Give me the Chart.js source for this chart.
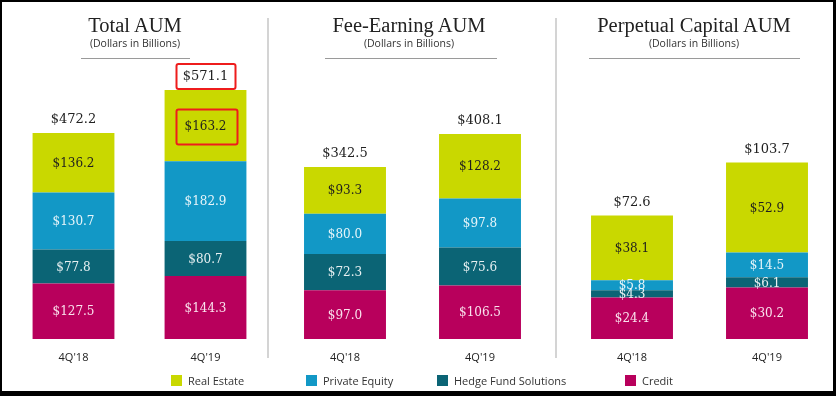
<!DOCTYPE html>
<html><head><meta charset="utf-8">
<script src="https://cdn.jsdelivr.net/npm/chart.js@4/dist/chart.umd.min.js"></script>
<style>
html,body{margin:0;padding:0;background:#fff;}
#wrap{position:relative;width:836px;height:396px;overflow:hidden;background:#fff;}
#frame{position:absolute;left:0;top:0;width:836px;height:396px;box-sizing:border-box;border-style:solid;border-color:#000;border-width:2px 3px 5px 2px;pointer-events:none;z-index:10;}
canvas{position:absolute;left:0;top:0;}
.title{position:absolute;font-family:"Liberation Serif",serif;font-size:20.5px;color:#222;text-align:center;white-space:nowrap;transform:translateX(-50%);line-height:20px;}
.sub{position:absolute;font-family:"Open Sans",sans-serif;font-size:10.5px;color:#333;text-align:center;white-space:nowrap;transform:translateX(-50%);line-height:12px;}
.rule{position:absolute;height:1px;background:#9a9a9a;}
.vsep{position:absolute;width:2px;background:#d4d4d4;top:18px;height:340px;}
.leg{position:absolute;top:374px;font-family:"Open Sans",sans-serif;font-size:11px;color:#333;line-height:13px;white-space:nowrap;}
.sw{position:absolute;width:11px;height:11px;top:375px;}
</style></head>
<body><div id="wrap">
<canvas id="c0" width="836" height="396"></canvas>
<canvas id="c1" width="836" height="396"></canvas>
<canvas id="c2" width="836" height="396"></canvas>
<div class="vsep" style="left:267px"></div>
<div class="vsep" style="left:555px"></div>
<div class="title" style="left:135px;top:15px">Total AUM</div>
<div class="sub" style="left:135px;top:37px">(Dollars in Billions)</div>
<div class="rule" style="left:81px;width:109px;top:58px"></div>
<div class="title" style="left:409px;top:15px">Fee-Earning AUM</div>
<div class="sub" style="left:409px;top:37px">(Dollars in Billions)</div>
<div class="rule" style="left:325px;width:172px;top:58px"></div>
<div class="title" style="left:694px;top:15px">Perpetual Capital AUM</div>
<div class="sub" style="left:694px;top:37px">(Dollars in Billions)</div>
<div class="rule" style="left:589px;width:211px;top:58px"></div>
<div id="legend"></div>
<div id="frame"></div>
</div>
<script>
// ---- data ----
const categories = ["4Q'18", "4Q'19"];
const seriesNames = ["Credit", "Hedge Fund Solutions", "Private Equity", "Real Estate"]; // bottom -> top
const legendOrder = ["Real Estate", "Private Equity", "Hedge Fund Solutions", "Credit"];
const panelTitles = ["Total AUM", "Fee-Earning AUM", "Perpetual Capital AUM"];

const totalCredit = [127.5, 144.3];
const totalHedge = [77.8, 80.7];
const totalPE = [130.7, 182.9];
const totalRE = [136.2, 163.2];
const totalSum = [472.2, 571.1];

const feeCredit = [97.0, 106.5];
const feeHedge = [72.3, 75.6];
const feePE = [80.0, 97.8];
const feeRE = [93.3, 128.2];
const feeSum = [342.5, 408.1];

const perpCredit = [24.4, 30.2];
const perpHedge = [4.3, 6.1];
const perpPE = [5.8, 14.5];
const perpRE = [38.1, 52.9];
const perpSum = [72.6, 103.7];

// ---- styles ----
const colors = {"Real Estate":"#c9d800","Private Equity":"#1298c6","Hedge Fund Solutions":"#0b6475","Credit":"#b8005c"};
const labelColors = {"Real Estate":"#1e1e1e","Private Equity":"rgba(255,255,255,0.9)","Hedge Fund Solutions":"rgba(255,255,255,0.9)","Credit":"rgba(255,245,250,0.92)"};

const panels = [
  {id:"c0", series:[totalCredit,totalHedge,totalPE,totalRE], sums:totalSum, left:7.5, right:271.5, yMax:639.9, bar:0.62, highlight:true},
  {id:"c1", series:[feeCredit,feeHedge,feePE,feeRE], sums:feeSum, left:277.5, right:547.5, yMax:555.4, bar:0.607},
  {id:"c2", series:[perpCredit,perpHedge,perpPE,perpRE], sums:perpSum, left:564.5, right:834.5, yMax:163.9, bar:0.607}
];

function roundRect(ctx,x,y,w,h,r){
  ctx.beginPath();
  ctx.moveTo(x+r,y);ctx.lineTo(x+w-r,y);ctx.quadraticCurveTo(x+w,y,x+w,y+r);
  ctx.lineTo(x+w,y+h-r);ctx.quadraticCurveTo(x+w,y+h,x+w-r,y+h);
  ctx.lineTo(x+r,y+h);ctx.quadraticCurveTo(x,y+h,x,y+h-r);
  ctx.lineTo(x,y+r);ctx.quadraticCurveTo(x,y,x+r,y);ctx.closePath();
}

const labelPlugin = {
  id:"vals",
  afterDatasetsDraw(chart, args, opts){
    const ctx = chart.ctx;
    ctx.save();
    ctx.textAlign = "center";
    ctx.textBaseline = "middle";
    ctx.font = "12px 'DejaVu Serif', serif";
    chart.data.datasets.forEach((ds, i) => {
      const meta = chart.getDatasetMeta(i);
      meta.data.forEach((el, j) => {
        const v = ds.data[j];
        ctx.fillStyle = labelColors[ds.label];
        ctx.fillText("$" + v.toFixed(1), el.x, (el.y + el.base) / 2 + 1);
      });
    });
    const top = chart.getDatasetMeta(chart.data.datasets.length - 1);
    ctx.font = "13px 'DejaVu Serif', serif";
    ctx.fillStyle = "#222";
    top.data.forEach((el, j) => {
      ctx.fillText("$" + opts.sums[j].toFixed(1), el.x, el.y - 13);
    });
    if (opts.highlight) {
      const el = top.data[1];
      ctx.strokeStyle = "#ee1c1c";
      ctx.lineWidth = 2;
      roundRect(ctx, el.x - 29, el.y - 26, 59, 25, 2); ctx.stroke();
      const mid = (el.y + el.base) / 2 + 1;
      roundRect(ctx, el.x - 29, mid - 17, 61, 35, 2); ctx.stroke();
    }
    ctx.restore();
  }
};

panels.forEach(p => {
  new Chart(document.getElementById(p.id), {
    type: "bar",
    data: {
      labels: categories,
      datasets: seriesNames.map((n, i) => ({
        label: n, data: p.series[i], backgroundColor: colors[n],
        borderWidth: 0, categoryPercentage: 1, barPercentage: p.bar
      }))
    },
    options: {
      responsive: false, animation: false, events: [],
      layout: {padding: {left: p.left, right: 836 - p.right, top: 60, bottom: 17}},
      plugins: {legend: {display: false}, tooltip: {enabled: false}, vals: {sums: p.sums, highlight: !!p.highlight}},
      scales: {
        x: {stacked: true, grid: {display: false}, border: {display: false},
            ticks: {color: "#222", font: {family: "'Open Sans', sans-serif", size: 11}, padding: 4},
            afterFit: (s) => { s.height = 40; }},
        y: {stacked: true, display: false, min: 0, max: p.yMax}
      }
    },
    plugins: [labelPlugin]
  });
});

// HTML legend
const legX = {"Real Estate":171, "Private Equity":306, "Hedge Fund Solutions":437, "Credit":625};
const lg = document.getElementById("legend");
legendOrder.forEach(n => {
  const s = document.createElement("div"); s.className = "sw";
  s.style.left = legX[n] + "px"; s.style.background = colors[n]; lg.appendChild(s);
  const t = document.createElement("div"); t.className = "leg";
  t.style.left = (legX[n] + 17) + "px"; t.textContent = n; lg.appendChild(t);
});
</script>
</body></html>
